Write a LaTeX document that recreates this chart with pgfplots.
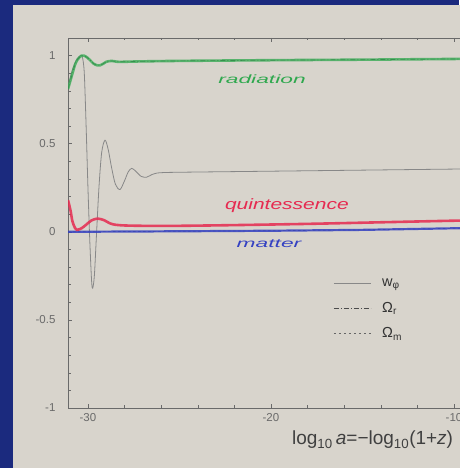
\documentclass[border=0pt]{standalone}
\usepackage{fontspec}
\setmainfont{Liberation Sans}
\usepackage{pgfplots}
\pgfplotsset{compat=1.18}
\definecolor{slideblue}{HTML}{1B2A7E}
\definecolor{panel}{HTML}{D8D4CC}
\definecolor{axgray}{HTML}{6A6A6A}
\definecolor{radgreen}{HTML}{2FA84E}
\definecolor{quired}{HTML}{E62A50}
\definecolor{matblue}{HTML}{3441C2}
\begin{document}
\begin{tikzpicture}[x=1pt,y=1pt]
\useasboundingbox (0,0) rectangle (459,468);
\fill[slideblue] (0,0) rectangle (459,468);
\fill[panel] (13,0) rectangle (470,463);
\begin{axis}[
  at={(68pt,60pt)}, anchor=south west,
  scale only axis, width=422.6pt, height=370pt,
  xmin=-31.09, xmax=-8, ymin=-1, ymax=1.10,
  axis x line=box, axis y line=left,
  axis line style={-, axgray, line width=0.6pt},
  xtick={-30,-20,-10}, ytick={-1,-0.5,0,0.5,1},
  minor x tick num=4, minor y tick num=4,
  tick style={axgray, line width=0.5pt},
  major tick length=4pt, minor tick length=2.5pt,
  tick align=inside,
  /pgf/number format/assume math mode=true,
  ticklabel style={font=\fontsize{11.5}{13}\selectfont, text=axgray},
  yticklabel style={xshift=-9pt},
  xticklabel style={yshift=-1.5pt},
  xlabel={log\textsubscript{10}\,\textit{a}=−log\textsubscript{10}(1+\textit{z})},
  xlabel style={at={(axis cs:-14.45,-1)}, anchor=center, yshift=-32pt,
    font=\fontsize{19}{21}\selectfont, text=black!75},
  legend style={at={(axis cs:-16.6,-0.255)}, anchor=north west, draw=none, fill=none,
    font=\fontsize{14.5}{16}\selectfont, text=black!80, row sep=10pt,
    inner sep=0pt},
  legend cell align=left,
  legend image code/.code={\draw[#1] (0pt,0pt) -- (37pt,0pt); \path (46pt,0pt);},
]
% w_phi
\addplot[axgray!80, line width=0.8pt, smooth, tension=0.5] coordinates {
(-31.09,0.82) (-30.85,0.92) (-30.6,0.98) (-30.40,1.0) (-30.30,0.99) (-30.20,0.9)
(-30.10,0.6) (-30.0,0.25) (-29.9,-0.05) (-29.8,-0.28) (-29.74,-0.32) (-29.65,-0.25)
(-29.55,-0.05) (-29.4,0.25) (-29.25,0.45) (-29.07,0.52) (-28.9,0.47) (-28.7,0.36)
(-28.5,0.27) (-28.25,0.24) (-28.0,0.29) (-27.8,0.34) (-27.61,0.36) (-27.4,0.345)
(-27.1,0.315) (-26.8,0.31) (-26.5,0.325) (-26.1,0.335) (-25,0.338) (-20,0.344)
(-15,0.350) (-10,0.356) (-8,0.358)};
\addlegendentry{w\textsubscript{φ}}
% Omega_r
\addplot[black!70, line width=0.7pt, dash pattern=on 5pt off 2pt on 1pt off 2pt, smooth, tension=0.5] coordinates {
(-31.09,0.81) (-30.98,0.85) (-30.87,0.89) (-30.70,0.95) (-30.55,0.98) (-30.35,1.00)
(-30.22,1.00) (-30.05,0.99) (-29.89,0.975) (-29.70,0.955) (-29.50,0.945) (-29.34,0.945)
(-29.15,0.955) (-29.0,0.965) (-28.7,0.97) (-28.4,0.965) (-28.0,0.965) (-27.2,0.967)
(-25,0.970) (-20,0.974) (-15,0.977) (-10,0.981) (-8,0.982)};
\addlegendentry{Ω\textsubscript{r}}
% Omega_m
\addplot[black!60, line width=0.7pt, dash pattern=on 2.5pt off 2.5pt] coordinates {
(-31.09,0.0) (-25,0.003) (-20,0.006) (-15,0.011) (-10,0.02) (-8,0.024)};
\addlegendentry{Ω\textsubscript{m}}
% hand-drawn overlays
\addplot[forget plot, radgreen, opacity=0.75, line width=2.6pt, smooth, tension=0.5] coordinates {
(-31.09,0.81) (-30.98,0.85) (-30.87,0.89) (-30.70,0.95) (-30.55,0.98) (-30.35,1.00)
(-30.22,1.00) (-30.05,0.99) (-29.89,0.975) (-29.70,0.955) (-29.50,0.945) (-29.34,0.945)
(-29.15,0.955) (-29.0,0.965) (-28.7,0.97) (-28.4,0.965) (-28.0,0.965) (-27.2,0.967)
(-25,0.970) (-20,0.974) (-15,0.977) (-10,0.981) (-8,0.982)};
\addplot[forget plot, matblue, opacity=0.85, line width=2.2pt] coordinates {
(-31.09,0.0) (-25,0.003) (-20,0.006) (-15,0.011) (-10,0.02) (-8,0.024)};
\addplot[forget plot, quired, opacity=0.85, line width=2.6pt, smooth, tension=0.5] coordinates {
(-31.09,0.18) (-30.95,0.12) (-30.85,0.06) (-30.70,0.02) (-30.6,0.011) (-30.35,0.02)
(-30.1,0.04) (-29.8,0.065) (-29.45,0.075) (-29.1,0.065) (-28.8,0.048) (-28.5,0.04)
(-28.0,0.036) (-27,0.034) (-25,0.034) (-22,0.038) (-18,0.045) (-14,0.054) (-10,0.063) (-8,0.066)};
\node[radgreen, font=\fontsize{12}{14}\selectfont\itshape, xscale=1.9] at (axis cs:-20.49,0.864) {radiation};
\node[quired, font=\fontsize{15}{17}\selectfont\itshape, xscale=1.4] at (axis cs:-19.13,0.148) {quintessence};
\node[matblue, font=\fontsize{12}{14}\selectfont\itshape, xscale=1.9] at (axis cs:-20.11,-0.068) {matter};
\end{axis}
\end{tikzpicture}
\end{document}
